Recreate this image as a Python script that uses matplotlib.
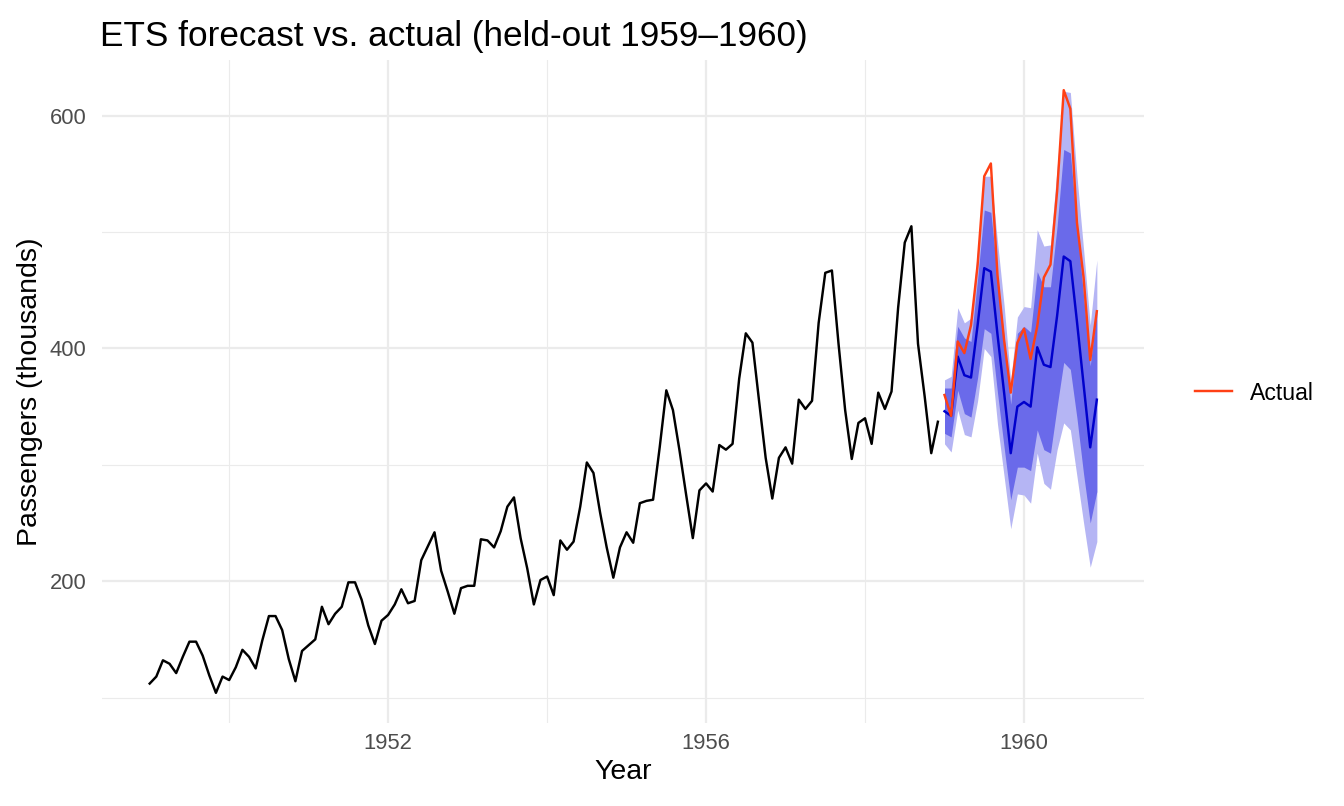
import numpy as np
import matplotlib
matplotlib.use("Agg")
import matplotlib.pyplot as plt
from matplotlib.ticker import FixedLocator

plt.rcParams['font.family'] = ['Liberation Sans', 'DejaVu Sans']

# monthly air passengers (thousands), training part 1949-1958
train = [112, 118, 132, 129, 121, 135, 148, 148, 136, 119, 104, 118,
         115, 126, 141, 135, 125, 149, 170, 170, 158, 133, 114, 140,
         145, 150, 178, 163, 172, 178, 199, 199, 184, 162, 146, 166,
         171, 180, 193, 181, 183, 218, 230, 242, 209, 191, 172, 194,
         196, 196, 236, 235, 229, 243, 264, 272, 237, 211, 180, 201,
         204, 188, 235, 227, 234, 264, 302, 293, 259, 229, 203, 229,
         242, 233, 267, 269, 270, 315, 364, 347, 312, 274, 237, 278,
         284, 277, 317, 313, 318, 374, 413, 405, 355, 306, 271, 306,
         315, 301, 356, 348, 355, 422, 465, 467, 404, 347, 305, 336,
         340, 318, 362, 348, 363, 435, 491, 505, 404, 359, 310, 337]

# held-out 1959-1960
actual = [360, 342, 406, 396, 420, 472, 548, 559, 463, 407, 362, 405,
          417, 391, 419, 461, 472, 535, 622, 606, 508, 461, 390, 432]

# ETS point forecast and intervals
fc = [346, 342, 393, 377, 375, 420, 469, 466, 412, 362, 310, 350,
      354, 350, 401, 386, 384, 428, 479, 475, 423, 369, 315, 356]
lo80 = [327, 324, 364, 344, 341, 375, 417, 413, 362, 315, 270, 298,
        298, 295, 330, 313, 310, 350, 388, 382, 340, 292, 250, 277]
hi80 = [366, 366, 419, 409, 406, 460, 519, 517, 462, 410, 352, 413,
        419, 414, 466, 453, 453, 505, 571, 568, 505, 445, 385, 434]
lo95 = [318, 311, 347, 326, 324, 355, 400, 393, 335, 290, 245, 275,
        274, 267, 310, 284, 279, 313, 336, 330, 290, 250, 212, 234]
hi95 = [373, 376, 435, 422, 426, 485, 548, 548, 492, 437, 372, 427,
        436, 435, 502, 488, 489, 555, 621, 620, 548, 485, 420, 476]

t_train = 1949 + np.arange(len(train)) / 12
t_test = 1959 + np.arange(len(actual)) / 12

fig = plt.figure(figsize=(13.44, 8.06), dpi=100)
ax = fig.add_axes([102/1344, 1 - 723/806, (1144-102)/1344, (723-60)/806])

ax.fill_between(t_test, lo95, hi95, color='#b5b5f4', lw=0)
ax.fill_between(t_test, lo80, hi80, color='#6a6aea', lw=0)
ax.plot(t_train, train, color='black', lw=1.75)
ax.plot(t_test, fc, color='#0000cc', lw=1.75)
ax.plot(t_test, actual, color='#ff4015', lw=1.75, label='Actual')

ax.set_xlim(1948.40, 1961.51)
ax.set_ylim(78.1, 647.9)

ax.xaxis.set_major_locator(FixedLocator([1952, 1956, 1960]))
ax.xaxis.set_minor_locator(FixedLocator([1950, 1954, 1958]))
ax.yaxis.set_major_locator(FixedLocator([200, 400, 600]))
ax.yaxis.set_minor_locator(FixedLocator([100, 300, 500]))
ax.grid(which='major', color='#ebebeb', lw=1.6)
ax.grid(which='minor', color='#ebebeb', lw=0.8)
ax.set_axisbelow(True)
for s in ax.spines.values():
    s.set_visible(False)
ax.tick_params(which='both', length=0, labelsize=15.8, labelcolor='#4d4d4d')
ax.tick_params(axis='x', pad=7)
ax.tick_params(axis='y', pad=11)

ax.set_xlabel('Year', fontsize=20.5, labelpad=3.5)
ax.set_ylabel('Passengers (thousands)', fontsize=20.5, labelpad=5)
ax.set_title('ETS forecast vs. actual (held-out 1959\u20131960)', fontsize=25.3,
             loc='left', x=-0.002, pad=10)

fig.legend(loc='center left', bbox_to_anchor=(1195/1344, 1 - 393/806), frameon=False,
           fontsize=16.6, handlelength=1.6, handletextpad=0.8,
           borderpad=0, borderaxespad=0)

fig.savefig('out.png', dpi=100)
